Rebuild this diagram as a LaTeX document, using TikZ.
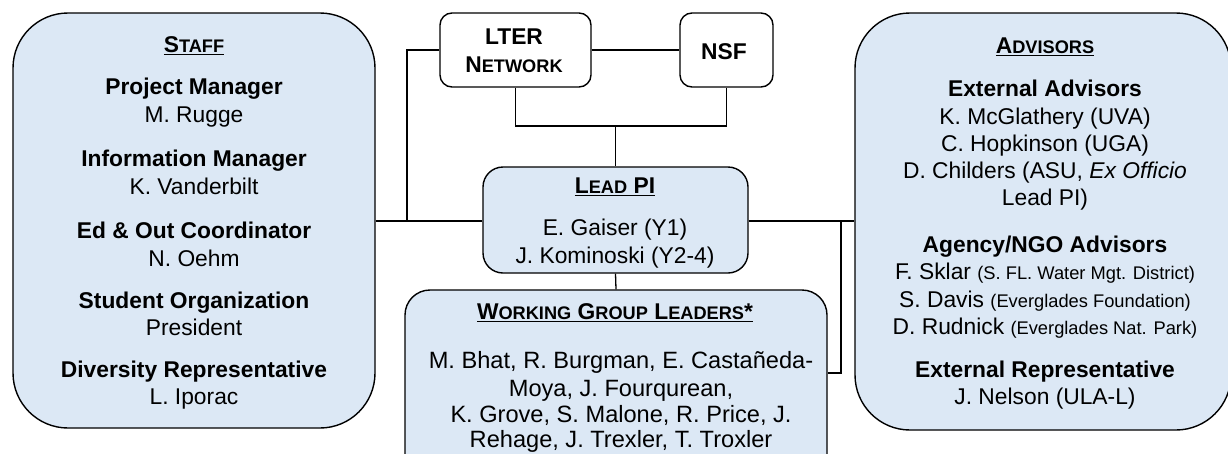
\documentclass[tikz,border=0pt]{standalone}
\usepackage{fontspec}
\setmainfont{Liberation Sans}
\definecolor{boxblue}{RGB}{220,232,245}
\newsavebox\ulbox
\newcommand\ulx[1]{\sbox\ulbox{#1}\leavevmode\rlap{\rule[-3.2pt]{\wd\ulbox}{1.5pt}}\usebox\ulbox}
\newcommand\fsc[2]{#1{\fontsize{18.2}{20}\selectfont #2}}
\newcommand\smalltxt[1]{{\fontsize{18.3}{20}\selectfont #1}}
\begin{document}
\begin{tikzpicture}[x=1pt,y=-1pt,
  bluebox/.style={draw=black, line width=1.4pt, fill=boxblue, inner sep=0pt},
  whitebox/.style={draw=black, line width=1.4pt, fill=white, inner sep=0pt},
  conn/.style={draw=black, line width=1.3pt},
  tb/.style={font=\fontsize{22.8}{26}\selectfont\bfseries, anchor=base, inner sep=0pt},
  tr/.style={font=\fontsize{22.8}{26}\selectfont, anchor=base, inner sep=0pt},
  twg/.style={font=\fontsize{23.6}{26}\selectfont, anchor=base, inner sep=0pt}]
\clip[use as bounding box] (0,0) rectangle (1228,453);
\fill[white] (0,0) rectangle (1228,453);

% boxes
\node[bluebox, rounded corners=55pt, minimum width=362pt, minimum height=415pt] (staff) at (194,220.5) {};
\node[bluebox, rounded corners=55pt, minimum width=376pt, minimum height=417pt] (adv) at (1043,221.5) {};
\node[whitebox, rounded corners=12pt, minimum width=151pt, minimum height=74pt] (lter) at (515.5,50) {};
\node[whitebox, rounded corners=12pt, minimum width=93pt, minimum height=74pt] (nsf) at (726.5,50) {};
\node[bluebox, rounded corners=20pt, minimum width=265pt, minimum height=106pt] (lead) at (615.5,220) {};
\node[bluebox, rounded corners=25pt, minimum width=422pt, minimum height=200pt] (wg) at (616,390) {};

% connectors
\coordinate (jl) at (407,221);
\coordinate (jb) at (615.5,126);
\coordinate (jr) at (841,221);
\coordinate (jw) at (841,373);
\draw[conn] (lter.east) -- (nsf.west);
\draw[conn] (lter.west) -| (jl);
\draw[conn] (staff.east |- jl) -- (lead.west |- jl);
\draw[conn] (lter.south) |- (jb) -| (nsf.south);
\draw[conn] (jb) -- (lead.north);
\draw[conn] (lead.south) -- (wg.north);
\draw[conn] (lead.east |- jr) -- (adv.west |- jr);
\draw[conn] (jr) -- (jw) -- (wg.east |- jw);

% LTER / NSF
\node[tb] (lt1) at (514,44) {LTER};
\node[tb] (lt2) at (514,72) {\fsc{N}{ETWORK}};
\node[tb] (ns1) at (724,59) {NSF};

% staff
\node[tb] (s0) at (194,52) {\ulx{\fsc{S}{TAFF}}};
\node[tb] (s1) at (194,94) {Project Manager};
\node[tr] (s2) at (194,122) {M. Rugge};
\node[tb] (s3) at (194,166) {Information Manager};
\node[tr] (s4) at (194,194) {K. Vanderbilt};
\node[tb] (s5) at (194,238) {Ed \& Out Coordinator};
\node[tr] (s6) at (194,266) {N. Oehm};
\node[tb] (s7) at (194,308) {Student Organization};
\node[tr] (s8) at (194,335) {President};
\node[tb] (s9) at (194,377) {Diversity Representative};
\node[tr] (s10) at (194,404) {L. Iporac};

% lead PI
\node[tb] (l0) at (615,193) {\ulx{\fsc{L}{EAD} PI}};
\node[tr] (l1) at (615,235) {E. Gaiser (Y1)};
\node[tr] (l2) at (615,263) {J. Kominoski (Y2-4)};

% working groups
\node[tb] (w0) at (615,319) {\ulx{\fsc{W}{ORKING} \fsc{G}{ROUP} \fsc{L}{EADERS}*}};
\node[twg] (w1) at (621,368) {M. Bhat, R. Burgman, E. Castañeda-};
\node[twg] (w2) at (621,396) {Moya, J. Fourqurean,};
\node[twg] (w3) at (621,422) {K. Grove, S. Malone, R. Price, J.};
\node[twg] (w4) at (621,447) {Rehage, J. Trexler, T. Troxler};

% advisors
\node[tb] (a0) at (1045,53) {\ulx{\fsc{A}{DVISORS}}};
\node[tb] (a1) at (1045,96) {External Advisors};
\node[tr] (a2) at (1045,124) {K. McGlathery (UVA)};
\node[tr] (a3) at (1045,151) {C. Hopkinson (UGA)};
\node[tr] (a4) at (1045,178) {D. Childers (ASU, \textit{Ex Officio}};
\node[tr] (a5) at (1045,205) {Lead PI)};
\node[tb] (a6) at (1045,252) {Agency/NGO Advisors};
\node[tr] (a7) at (1045,279) {F. Sklar \smalltxt{(S. FL. Water Mgt. District)}};
\node[tr] (a8) at (1045,307) {S. Davis \smalltxt{(Everglades Foundation)}};
\node[tr] (a9) at (1045,334) {D. Rudnick \smalltxt{(Everglades Nat. Park)}};
\node[tb] (a10) at (1045,377) {External Representative};
\node[tr] (a11) at (1045,404) {J. Nelson (ULA-L)};
\end{tikzpicture}
\end{document}
